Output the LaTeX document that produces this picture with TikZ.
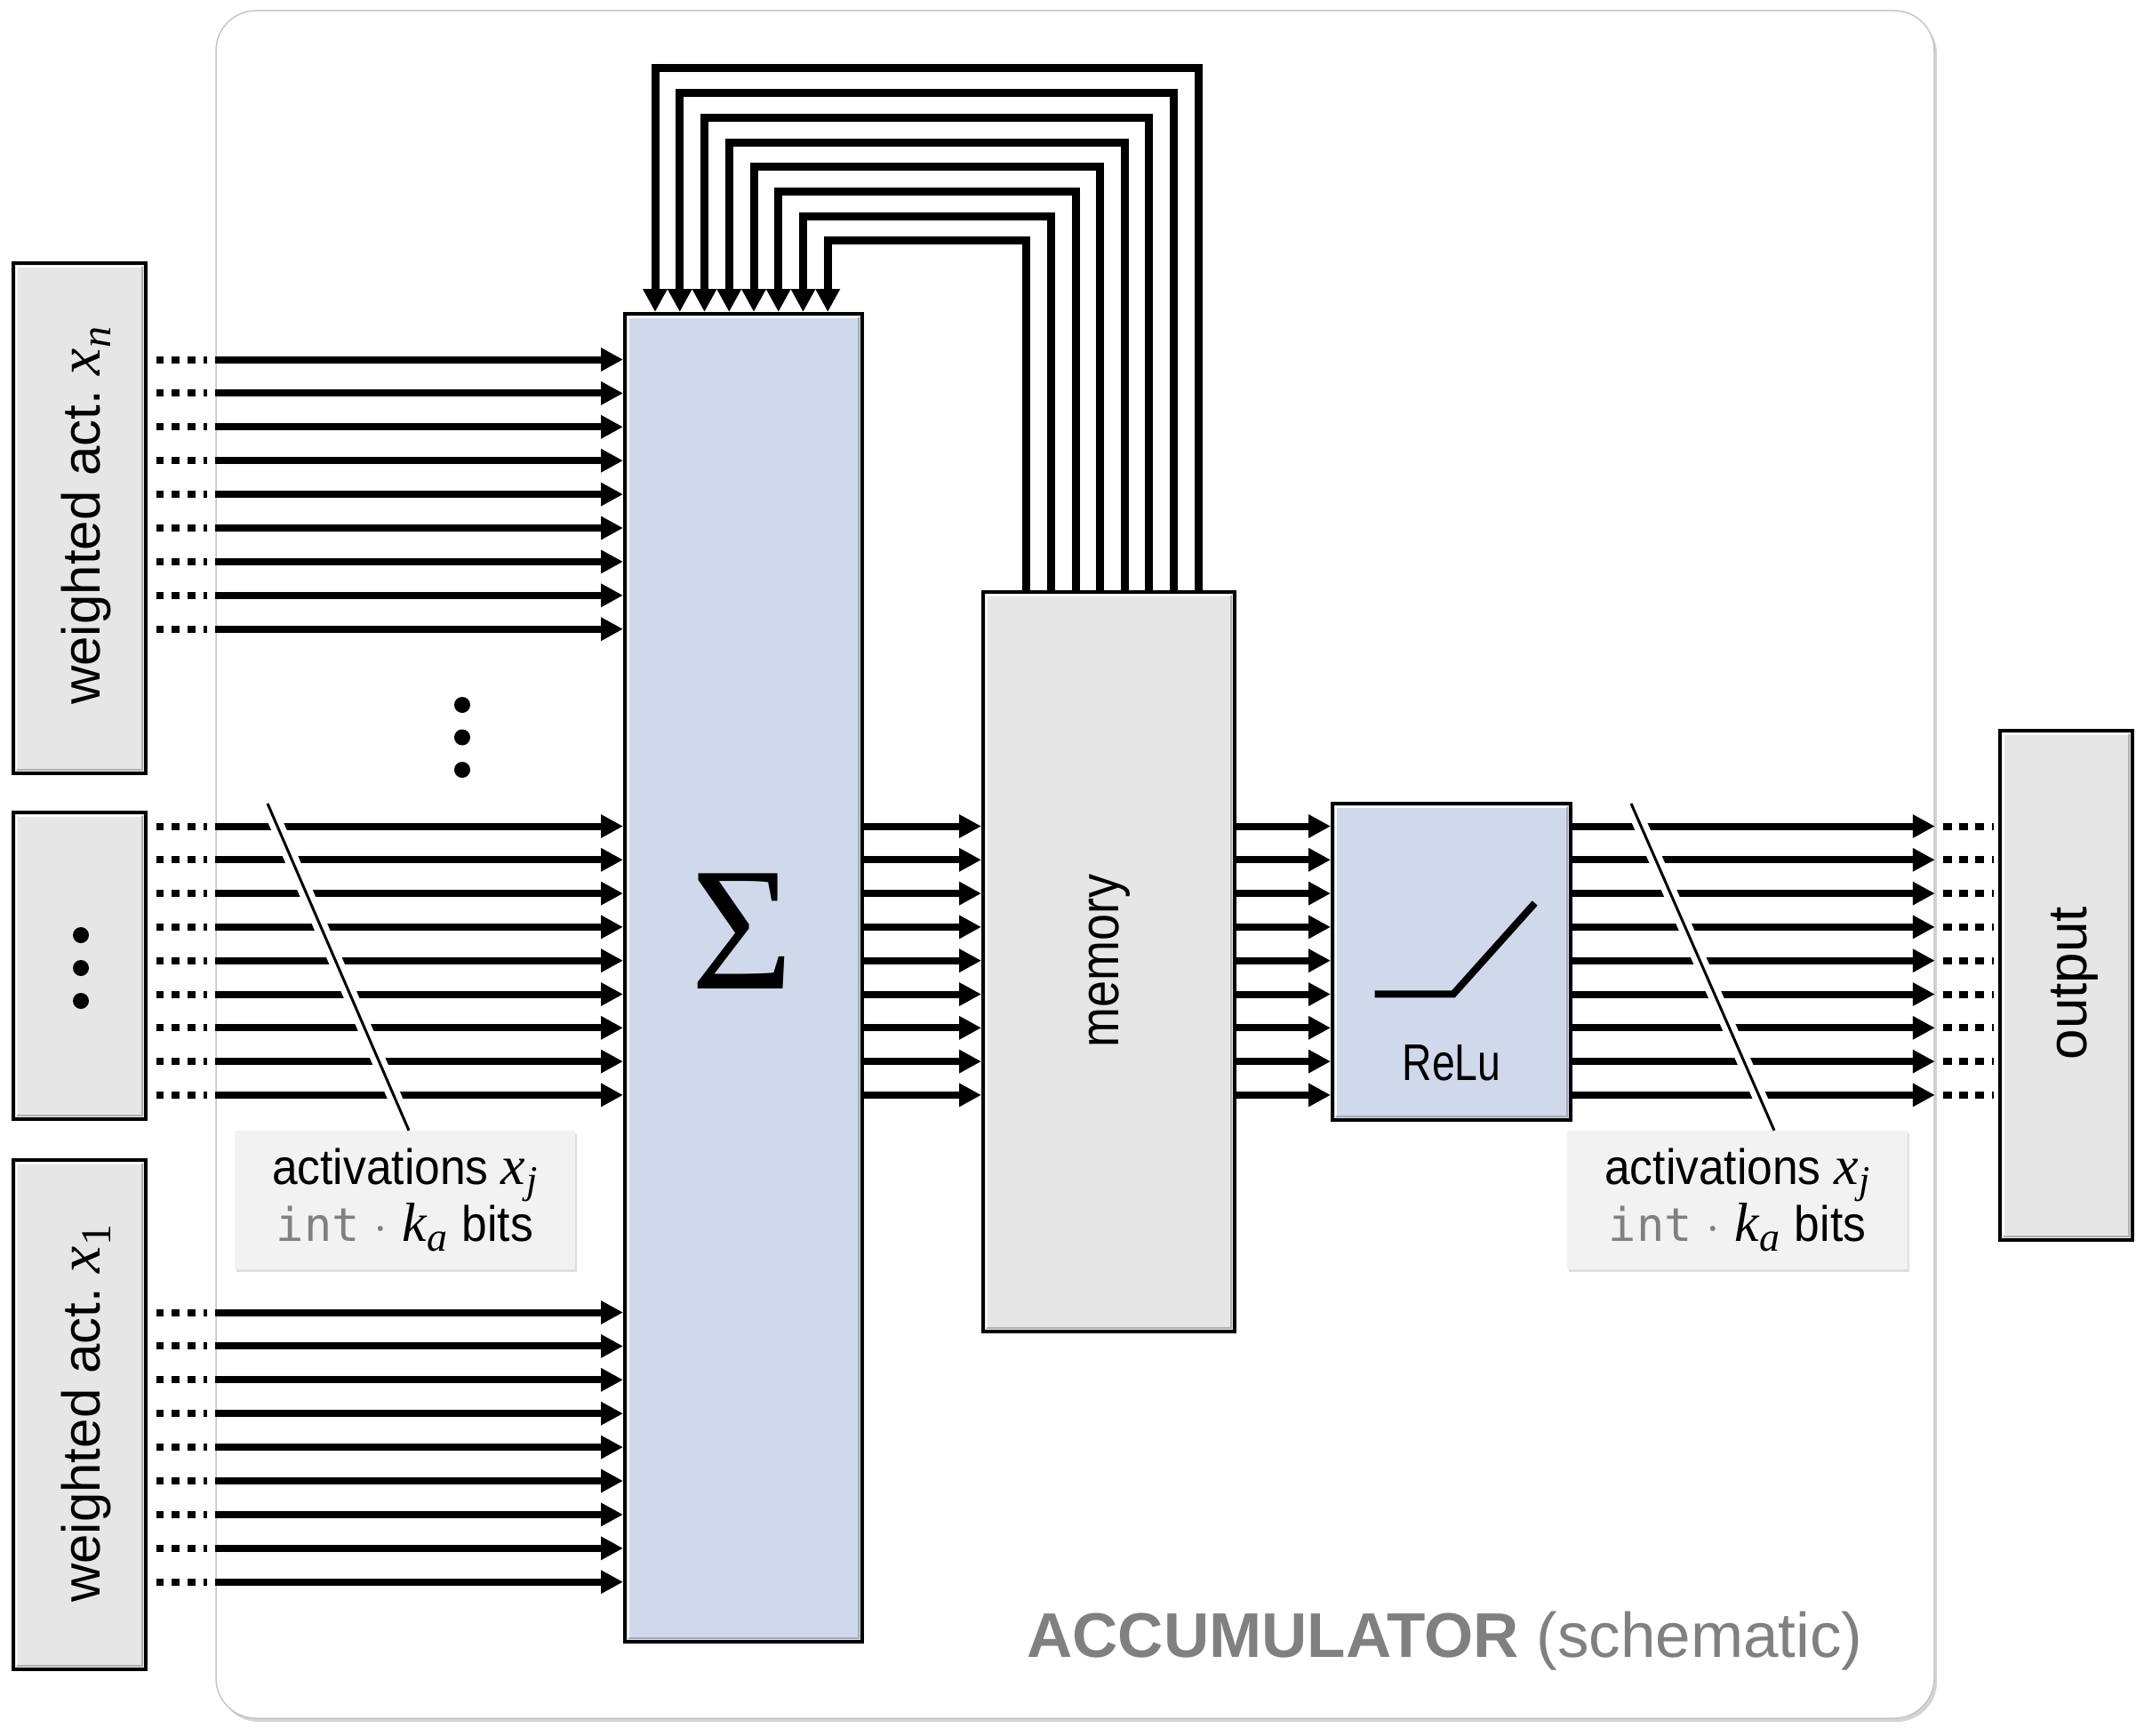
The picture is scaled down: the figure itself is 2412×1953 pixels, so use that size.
\RequirePackage{fix-cm}
\documentclass[tikz,border=0pt]{standalone}
\usepackage{fontspec}
\setmainfont{Liberation Sans}
\setmonofont{DejaVu Sans Mono}
\newfontfamily\lblfont[FakeStretch=0.92]{Liberation Sans}
\newfontfamily\relufont[FakeStretch=0.80]{Liberation Sans}
\newfontfamily\memfont[FakeStretch=0.87]{Liberation Sans}
\newfontfamily\sigfont{Liberation Serif}
\newfontfamily\mfont{Liberation Serif}
% #1 base letter, #2 subscript, #3 base size, #4 sub size, #5 drop
\newcommand{\mvar}[5]{{\mfont\itshape\fontsize{#3}{#3}\selectfont #1}\kern1pt\lower#5\hbox{\mfont\itshape\fontsize{#4}{#4}\selectfont #2}}
\usetikzlibrary{arrows.meta,calc,shadows}
\definecolor{boxgray}{RGB}{230,230,230}
\definecolor{lav}{RGB}{208,216,235}
\definecolor{lblgray}{RGB}{242,242,242}
\definecolor{txtgray}{RGB}{128,128,128}
\newcommand{\boxbevel}[1]{%
  \draw[white, line width=2.5pt, opacity=0.9] ($(#1.south west)+(6,-6)$) -- ($(#1.north west)+(6,6)$) -- ($(#1.north east)+(-6,6)$);
  \draw[black!45, line width=2.5pt, opacity=0.6] ($(#1.north east)+(-6,6)$) -- ($(#1.south east)+(-6,-6)$) -- ($(#1.south west)+(6,-6)$);}
\newcommand{\bitslabel}{activations \mvar{x}{j}{62pt}{44pt}{10pt}\\ {\fontsize{52pt}{64pt}\selectfont\ttfamily\color{txtgray}int}\hspace{16pt}{\color{txtgray}$\cdot$}\hspace{16pt}\mvar{k}{a}{62pt}{46pt}{11pt}\hspace{16pt}bits}
\begin{document}
\begin{tikzpicture}[x=1pt,y=-1pt,
  blk/.style={draw=black, line width=4pt, fill=#1, inner sep=0pt},
  arr/.style={line width=8pt, -{Triangle[length=25pt,width=25pt]}},
  fb/.style={line width=9pt, line join=miter, -{Triangle[length=26pt,width=26pt]}},
  stubl/.style={line width=8pt, dash pattern=on 8.7pt off 9pt},
  stubr/.style={line width=8pt, dash pattern=on 10pt off 8.3pt},
  lbl/.style={fill=lblgray, minimum width=383pt, minimum height=156pt, inner sep=0pt, align=center,
    font={\lblfont\fontsize{56pt}{64pt}\selectfont},
    drop shadow={shadow xshift=2pt, shadow yshift=-3pt, opacity=0.25}},
  rtxt/.style={rotate=90, anchor=base, inner sep=0pt}
]
\useasboundingbox (0,0) rectangle (2412,1953);
% container
\node[draw=gray!45, line width=1.5pt, fill=white, rounded corners=45pt, minimum width=1933pt,
  minimum height=1921pt, inner sep=0pt,
  drop shadow={shadow xshift=3pt, shadow yshift=-4pt, opacity=0.35}] (acc) at (1209.5,972.5) {};
% boxes
\node[blk=boxgray, minimum width=149pt, minimum height=574pt] (wA) at (89.5,583) {};
\node[blk=boxgray, minimum width=149pt, minimum height=345pt] (wB) at (89.5,1086.5) {};
\node[blk=boxgray, minimum width=149pt, minimum height=573pt] (wC) at (89.5,1591.5) {};
\node[blk=lav, minimum width=267pt, minimum height=1494pt] (sigma) at (836.5,1100) {};
\node[blk=boxgray, minimum width=283pt, minimum height=832pt] (mem) at (1247.5,1082) {};
\node[blk=lav, minimum width=268pt, minimum height=356pt] (relu) at (1633,1082) {};
\node[blk=boxgray, minimum width=149pt, minimum height=573pt] (out) at (2324.5,1108.5) {};
\boxbevel{wA}\boxbevel{wB}\boxbevel{wC}\boxbevel{sigma}\boxbevel{mem}\boxbevel{relu}\boxbevel{out}
% label boxes
\node[lbl] (lA) at (455.5,1350) {\bitslabel};
\node[lbl] (lB) at (1954.5,1350) {\bitslabel};
% horizontal buses
\foreach \i in {0,...,8} {
  \pgfmathsetmacro{\ya}{404.5+37.9*\i}
  \pgfmathsetmacro{\yb}{929.5+37.8*\i}
  \pgfmathsetmacro{\yc}{1476.5+37.9*\i}
  \draw[stubl] ($(wA.east |- 0,\ya)+(9.7,0)$) -- ($(acc.west |- 0,\ya)+(-9,0)$);
  \draw[stubl] ($(wB.east |- 0,\yb)+(9.7,0)$) -- ($(acc.west |- 0,\yb)+(-9,0)$);
  \draw[stubl] ($(wC.east |- 0,\yc)+(9.7,0)$) -- ($(acc.west |- 0,\yc)+(-9,0)$);
  \draw[arr] (acc.west |- 0,\ya) -- (sigma.west |- 0,\ya);
  \draw[arr] (acc.west |- 0,\yb) -- (sigma.west |- 0,\yb);
  \draw[arr] (acc.west |- 0,\yc) -- (sigma.west |- 0,\yc);
  \draw[arr] (sigma.east |- 0,\yb) -- (mem.west |- 0,\yb);
  \draw[arr] (mem.east |- 0,\yb) -- (relu.west |- 0,\yb);
  \draw[arr] (relu.east |- 0,\yb) -- (acc.east |- 0,\yb);
  \draw[stubr] ($(acc.east |- 0,\yb)+(9,0)$) -- ($(out.west |- 0,\yb)+(-5,0)$);
}
% feedback
\foreach \i in {0,...,7} {
  \pgfmathsetmacro{\xr}{1348-27.6*\i}
  \pgfmathsetmacro{\xl}{737+27.75*\i}
  \pgfmathsetmacro{\yt}{77+27.7*\i}
  \draw[fb] (mem.north -| \xr,0) -- (\xr,\yt) -- (\xl,\yt) -- (sigma.north -| \xl,0);
}
% slashes
\coordinate (sA) at (301,904);
\coordinate (sB) at (1835,904);
\draw[white, line width=16pt, shorten >=8pt] (sA) -- (lA.north -| 460,0);
\draw[black, line width=3pt] (sA) -- (lA.north -| 460,0);
\draw[white, line width=16pt, shorten >=8pt] (sB) -- (lB.north -| 1996,0);
\draw[black, line width=3pt] (sB) -- (lB.north -| 1996,0);
% dots
\fill (520,793) circle[radius=9pt] (520,829.5) circle[radius=9pt] (520,866) circle[radius=9pt];
\fill (91,1052) circle[radius=9pt] (91,1089) circle[radius=9pt] (91,1126) circle[radius=9pt];
% relu glyph
\draw[line width=8pt] (1546.7,1118.3) -- (1635,1118.3) -- (1726.7,1016);
% texts
\node[rtxt, font=\fontsize{60pt}{60pt}\selectfont] (tA) at (112,580) {weighted act.~\mvar{x}{n}{68pt}{48pt}{12pt}};
\node[rtxt, font=\fontsize{60pt}{60pt}\selectfont] (tC) at (112,1590) {weighted act.~\mvar{x}{\upshape 1}{68pt}{48pt}{12pt}};
\node[rtxt, font={\memfont\fontsize{62pt}{62pt}\selectfont}] (tM) at (1258,1081) {memory};
\node[rtxt, font=\fontsize{62pt}{62pt}\selectfont] (tO) at (2347,1106) {output};
\node[anchor=base, inner sep=0pt, font={\relufont\fontsize{58pt}{58pt}\selectfont}] (tR) at (1633,1215) {ReLu};
\node[inner sep=0pt, font={\sigfont\fontsize{198pt}{198pt}\selectfont}] (tS) at (835.5,1048) {Σ};
\node[anchor=base west, inner sep=0pt, text=txtgray, font=\fontsize{71pt}{71pt}\selectfont] (title) at (1155,1864) {{\bfseries ACCUMULATOR} (schematic)};
\end{tikzpicture}
\end{document}
